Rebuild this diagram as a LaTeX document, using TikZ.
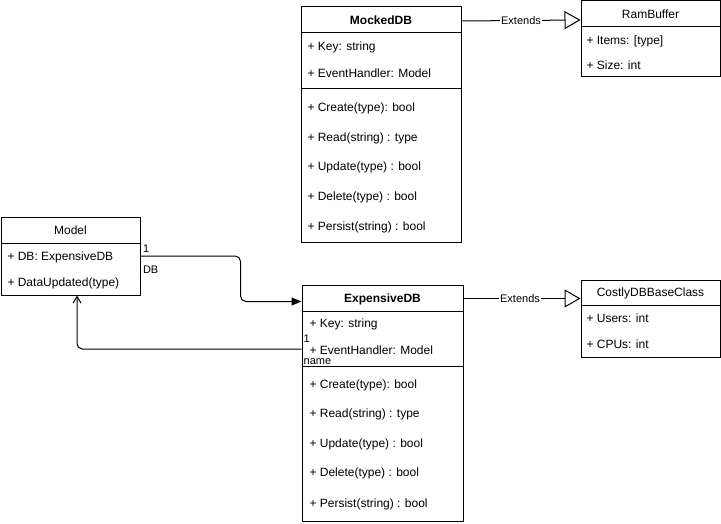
\documentclass[tikz,border=0pt]{standalone}
\usepackage{fontspec}
\setmainfont{Liberation Sans}
\usetikzlibrary{arrows.meta,fit}
\begin{document}
\begin{tikzpicture}[x=0.75pt,y=-0.75pt,line width=0.75pt,
  classbox/.style={draw, inner sep=0pt, line width=0.75pt},
  fld/.style={anchor=west, inner sep=0pt, text height=6.45pt, text depth=0pt, font=\fontsize{9}{11}\selectfont},
  hdr/.style={inner sep=0pt, text height=6.45pt, text depth=0pt, font=\fontsize{9}{11}\selectfont},
  bhdr/.style={hdr, font=\fontsize{9}{11}\selectfont\bfseries},
  lbl/.style={inner sep=0.6pt, text height=5.9pt, text depth=0pt, font=\fontsize{8.25}{10}\selectfont},
  conn/.style={line width=0.75pt, rounded corners=4pt},
  extends/.style={line width=0.75pt, -{Triangle[open, length=12pt, width=13.5pt]}},
]
\useasboundingbox (0,0) rectangle (721,524);

% ---------- MockedDB ----------
\node[classbox, fit={(301,7) (461,242)}] (mocked) {};
\draw (301,33) -- (461,33);
\draw (301,89) -- (461,89);
\node[bhdr] (mockedh) at (381,20.5) {MockedDB};
\node[fld] (mk1) at (307,46) {+ Key: string};
\node[fld] (mk2) at (307,73) {+ EventHandler: Model};
\node[fld] (mm1) at (307,107) {+ Create(type): bool};
\node[fld] (mm2) at (307,137) {+ Read(string) : type};
\node[fld] (mm3) at (307,166) {+ Update(type) : bool};
\node[fld] (mm4) at (307,196.5) {+ Delete(type) : bool};
\node[fld] (mm5) at (307,226) {+ Persist(string) : bool};

% ---------- RamBuffer ----------
\node[classbox, fit={(581,1) (720,77)}] (ram) {};
\draw (581,27) -- (720,27);
\node[hdr] (ramh) at (650.5,14) {RamBuffer};
\node[fld] (r1) at (586,40) {+ Items: [type]};
\node[fld] (r2) at (586,65) {+ Size: int};

% ---------- Model ----------
\node[classbox, fit={(1,217) (140,295)}] (model) {};
\draw (1,243) -- (140,243);
\node[hdr] (modelh) at (70.5,230) {Model};
\node[fld] (mdb) at (7,256) {+ DB: ExpensiveDB};
\node[fld] (mdu) at (7,282) {+ DataUpdated(type)};

% ---------- ExpensiveDB ----------
\node[classbox, fit={(302,285) (463,521)}] (edb) {};
\draw (302,311) -- (463,311);
\draw (302,366) -- (463,366);
\node[bhdr] (edbh) at (382.5,298.5) {ExpensiveDB};
\node[fld] (ek1) at (309,323) {+ Key: string};
\node[fld] (eeh) at (309,350) {+ EventHandler: Model};
\node[fld] (em1) at (309,384) {+ Create(type): bool};
\node[fld] (em2) at (309,413.5) {+ Read(string) : type};
\node[fld] (em3) at (309,443) {+ Update(type) : bool};
\node[fld] (em4) at (309,472.5) {+ Delete(type) : bool};
\node[fld] (em5) at (309,503) {+ Persist(string) : bool};

% ---------- CostlyDBBaseClass ----------
\node[classbox, fit={(581,280) (720,357)}] (costly) {};
\draw (581,305) -- (720,305);
\node[hdr] (costlyh) at (650.5,292) {CostlyDBBaseClass};
\node[fld] (c1) at (586,318) {+ Users: int};
\node[fld] (c2) at (586,344) {+ CPUs: int};

% ---------- connectors ----------
\draw[extends] (mocked.east |- 0,21) -- (ram.west |- 0,20);
\node[lbl, fill=white] (ext1) at (521,20.5) {Extends};

\draw[extends] (edb.east |- 0,298.5) -- (costly.west |- 0,298.5);
\node[lbl, fill=white] (ext2) at (520,298.5) {Extends};

\draw[conn, -{Triangle[length=7.5pt, width=6pt]}]
  (model.east |- mdb) -- ++(100,0) |- (edb.west |- 0,301.5);
\node[lbl, anchor=west, inner sep=0pt] (one1) at (142.5,249) {1};
\node[lbl, anchor=west, inner sep=0pt] (dbl) at (142.5,269.5) {DB};

\draw[conn, -{Straight Barb[length=5pt, width=6pt]}]
  (edb.west |- 0,349) -| (77,0 |- model.south);
\node[lbl, anchor=west, inner sep=0pt] (one2) at (303,339) {1};
\node[lbl, anchor=west, fill=white, inner sep=0.4pt] (namel) at (302.6,361) {name};
\end{tikzpicture}
\end{document}
